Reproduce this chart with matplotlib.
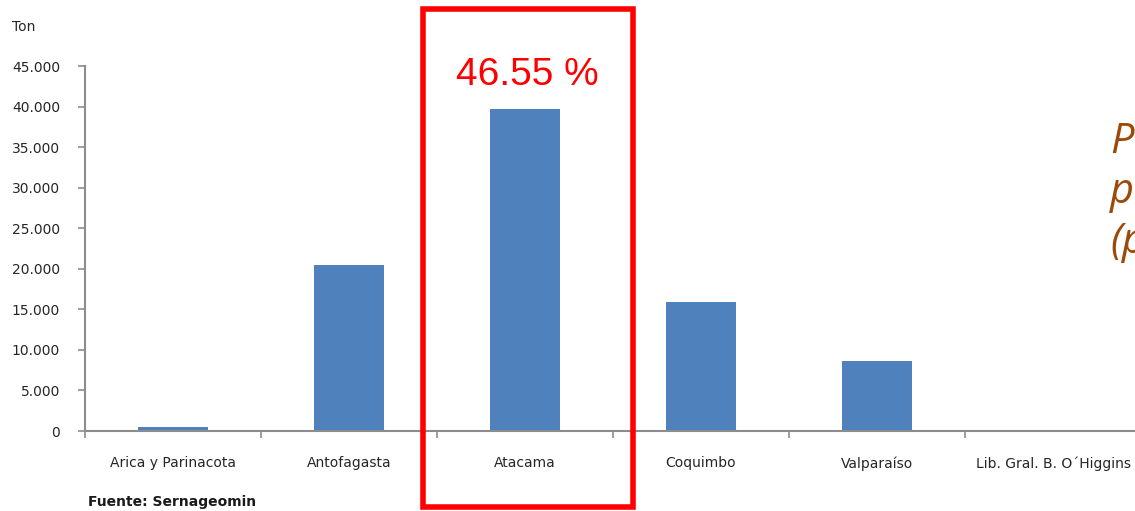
import matplotlib.pyplot as plt
import numpy as np
from matplotlib.patches import Rectangle
from matplotlib.ticker import FuncFormatter

# datos
regiones = ['Arica y Parinacota', 'Antofagasta', 'Atacama', 'Coquimbo',
            'Valparaíso', 'Lib. Gral. B. O´Higgins']
toneladas = [450, 20450, 39700, 15900, 8600, 0]
porcentaje = '46.55 %'
titulo_lateral = 'P\np\n(p'

azul = '#4F81BD'
gris = '#8C8C8C'

fig = plt.figure(figsize=(11.35, 5.11), dpi=100)
ax = fig.add_axes([85 / 1135, 1 - 431 / 511, 1056 / 1135, 365 / 511])

x = np.arange(len(regiones))
ax.bar(x, toneladas, width=0.40, color=azul, zorder=2)

ax.set_xlim(-0.5, len(regiones) - 0.5)
ax.set_ylim(0, 45000)
ax.set_yticks(np.arange(0, 45001, 5000))
ax.yaxis.set_major_formatter(FuncFormatter(lambda v, p: f'{int(v):,}'.replace(',', '.')))

# ticks en los limites de categoria, etiquetas en el centro
ax.set_xticks(np.arange(-0.5, len(regiones), 1.0))
ax.set_xticklabels([])
ax.set_xticks(x, minor=True)
ax.set_xticklabels(regiones, minor=True)
ax.tick_params(axis='x', which='major', length=5, width=1.2, color=gris, direction='out')
ax.tick_params(axis='x', which='minor', length=0, pad=18, labelsize=10, labelcolor='#262626')
ax.tick_params(axis='y', length=5, width=1.2, color=gris, pad=13, labelsize=10, labelcolor='#262626')

for s in ['top', 'right']:
    ax.spines[s].set_visible(False)
for s in ['left', 'bottom']:
    ax.spines[s].set_color(gris)
    ax.spines[s].set_linewidth(1.5)

fig.text(12 / 1135, 1 - 27 / 511, 'Ton', fontsize=10, color='#262626', va='center')
fig.text(88 / 1135, 1 - 502 / 511, 'Fuente: Sernageomin', fontsize=10,
         fontweight='bold', color='#1a1a1a', va='center')

# recuadro rojo resaltando Atacama
fig.patches.append(Rectangle((423 / 1135, 1 - 507 / 511), 210 / 1135, 498 / 511,
                             transform=fig.transFigure, fill=False,
                             edgecolor='#FF0000', linewidth=4, zorder=5))
fig.text(527 / 1135, 1 - 75 / 511, porcentaje, fontsize=28, color='#FF0000',
         family='Liberation Sans', ha='center', va='center')

# titulo lateral (cortado por el borde en el original)
fig.text(1110 / 1135, 1 - 192 / 511, titulo_lateral, fontsize=30,
         style='italic', family='Open Sans', color='#9C4A0A',
         ha='left', va='center', linespacing=1.25)

plt.savefig('out.png', dpi=100)
